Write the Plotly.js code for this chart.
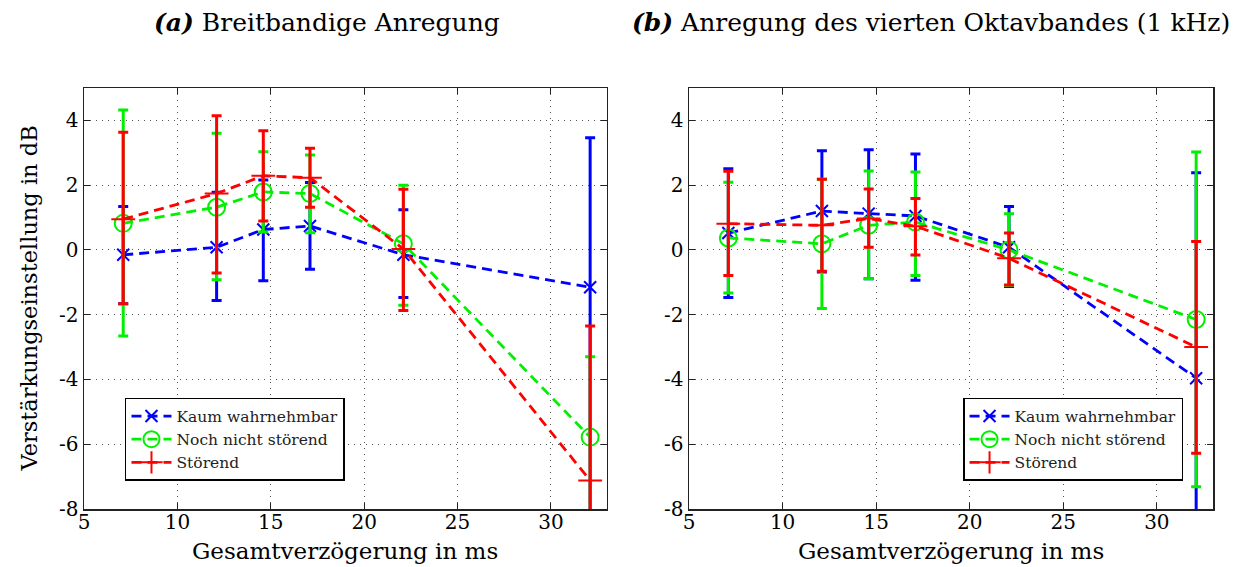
<!DOCTYPE html>
<html>
<head>
<meta charset="utf-8">
<script src="https://cdn.plot.ly/plotly-3.0.1.min.js"></script>
<style>html,body{margin:0;padding:0;background:#fff;} #chart{width:1244px;height:567px;}</style>
</head>
<body>
<div id="chart"></div>
<script>
// Delay values (ms)
const delays = [7.1, 12.1, 14.6, 17.1, 22.1, 32.1];
const seriesNames = ["Kaum wahrnehmbar", "Noch nicht störend", "Störend"];

// (a) Breitbandige Anregung: mean, upper bound, lower bound
const aKaum      = [-0.15, 0.08, 0.63, 0.74, -0.15, -1.15];
const aKaumHi    = [1.34, 1.78, 2.16, 2.08, 1.24, 3.46];
const aKaumLo    = [-1.66, -1.56, -0.95, -0.60, -1.47, -9.5];
const aNoch      = [0.82, 1.32, 1.79, 1.74, 0.19, -5.78];
const aNochHi    = [4.32, 3.60, 3.03, 2.93, 2.00, -3.3];
const aNochLo    = [-2.66, -0.92, 0.55, 0.53, -1.71, -8.3];
const aStoer     = [0.95, 1.74, 2.29, 2.23, 0.03, -7.12];
const aStoerHi   = [3.63, 4.14, 3.68, 3.14, 1.87, -2.35];
const aStoerLo   = [-1.66, -0.71, 0.89, 1.32, -1.87, -11.9];

// (b) Anregung des vierten Oktavbandes (1 kHz)
const bKaum      = [0.52, 1.20, 1.12, 1.05, 0.08, -3.96];
const bKaumHi    = [2.51, 3.06, 3.09, 2.96, 1.34, 2.38];
const bKaumLo    = [-1.47, -0.68, -0.89, -0.94, -1.13, -10.3];
const bNoch      = [0.37, 0.19, 0.76, 0.86, 0.00, -2.15];
const bNochHi    = [2.09, 2.18, 2.44, 2.41, 1.12, 3.02];
const bNochLo    = [-1.33, -1.81, -0.89, -0.79, -1.10, -7.31];
const bStoer     = [0.81, 0.76, 0.97, 0.73, -0.26, -3.00];
const bStoerHi   = [2.43, 2.18, 1.88, 1.59, 0.52, 0.26];
const bStoerLo   = [-0.79, -0.66, 0.08, -0.16, -1.08, -6.28];

const colors = ["#0000ff", "#00f000", "#ff0000"];
const symbols = ["x-thin-open", "circle-open", "cross-thin-open"];
const msizes = [12, 17, 17];
const FONT = "'DejaVu Serif', 'Liberation Serif', serif";

function mk(y, hi, lo, i, xa, ya, leg) {
  return {
    x: delays, y: y, xaxis: xa, yaxis: ya, type: "scatter", mode: "lines+markers",
    name: seriesNames[i], legend: leg, cliponaxis: true,
    line: {color: colors[i], width: 2.8, dash: "10px,6px"},
    marker: {symbol: symbols[i], size: msizes[i], color: colors[i], line: {color: colors[i], width: 2}},
    error_y: {type: "data", symmetric: false,
      array: hi.map((h, k) => h - y[k]), arrayminus: lo.map((l, k) => y[k] - l),
      color: colors[i], thickness: 3, width: 5}
  };
}

const data = [
  mk(aKaum, aKaumHi, aKaumLo, 0, "x", "y", "legend"),
  mk(aNoch, aNochHi, aNochLo, 1, "x", "y", "legend"),
  mk(aStoer, aStoerHi, aStoerLo, 2, "x", "y", "legend"),
  mk(bKaum, bKaumHi, bKaumLo, 0, "x2", "y2", "legend2"),
  mk(bNoch, bNochHi, bNochLo, 1, "x2", "y2", "legend2"),
  mk(bStoer, bStoerHi, bStoerLo, 2, "x2", "y2", "legend2")
];

const xTicks = [5, 10, 15, 20, 25, 30];
const yTicks = [-8, -6, -4, -2, 0, 2, 4];

function xax(dom, anchor) {
  return {domain: dom, anchor: anchor, range: [5, 33], tickvals: xTicks, ticktext: xTicks.map(String),
    showgrid: true, gridcolor: "#555", griddash: "1px,5px", gridwidth: 1, zeroline: false,
    showline: true, linecolor: "#222", linewidth: 1.5, mirror: "ticks", ticks: "inside", ticklen: 6,
    ticklabelstandoff: -6,
    tickcolor: "#222", tickfont: {family: FONT, size: 20, color: "#000"}, fixedrange: true};
}
function yax(anchor) {
  return {anchor: anchor, range: [-8, 5], tickvals: yTicks, ticktext: yTicks.map(String),
    showgrid: true, gridcolor: "#555", griddash: "1px,5px", gridwidth: 1, zeroline: false,
    showline: true, linecolor: "#222", linewidth: 1.5, mirror: "ticks", ticks: "inside", ticklen: 6,
    tickcolor: "#222", tickfont: {family: FONT, size: 20, color: "#000"}, fixedrange: true};
}

const legStyle = (x) => ({x: x, y: 0.2637, xanchor: "left", yanchor: "top", bgcolor: "#fff",
  bordercolor: "#000", borderwidth: 1.5, font: {family: FONT, size: 15.5, color: "#222"},
  tracegroupgap: 0, itemwidth: 40});

const layout = {
  width: 1244, height: 567, paper_bgcolor: "#fff", plot_bgcolor: "#fff",
  margin: {l: 84, r: 31, t: 88, b: 58},
  showlegend: true,
  xaxis: xax([0, 0.4632], "y"),
  yaxis: yax("x"),
  xaxis2: xax([0.5359, 1], "y2"),
  yaxis2: yax("x2"),
  legend: legStyle(0.0363),
  legend2: legStyle(0.7786),
  annotations: [
    {text: "<b><i>(a)</i></b> Breitbandige Anregung", xref: "paper", yref: "paper", x: 0.2154, y: 1.155,
      xanchor: "center", yanchor: "middle", showarrow: false, font: {family: FONT, size: 25, color: "#000"}},
    {text: "<b><i>(b)</i></b> Anregung des vierten Oktavbandes (1 kHz)", xref: "paper", yref: "paper", x: 0.7503, y: 1.155,
      xanchor: "center", yanchor: "middle", showarrow: false, font: {family: FONT, size: 25, color: "#000"}},
    {text: "Gesamtverzögerung in ms", xref: "paper", yref: "paper", x: 0.2316, y: -0.1,
      xanchor: "center", yanchor: "middle", showarrow: false, font: {family: FONT, size: 23, color: "#000"}},
    {text: "Gesamtverzögerung in ms", xref: "paper", yref: "paper", x: 0.7680, y: -0.1,
      xanchor: "center", yanchor: "middle", showarrow: false, font: {family: FONT, size: 23, color: "#000"}},
    {text: "Verstärkungseinstellung in dB", xref: "paper", yref: "paper", x: -0.0496, y: 0.5,
      xanchor: "center", yanchor: "middle", textangle: -90, showarrow: false, font: {family: FONT, size: 22.5, color: "#000"}}
  ]
};

Plotly.newPlot("chart", data, layout, {displayModeBar: false, staticPlot: true});
</script>
</body>
</html>
